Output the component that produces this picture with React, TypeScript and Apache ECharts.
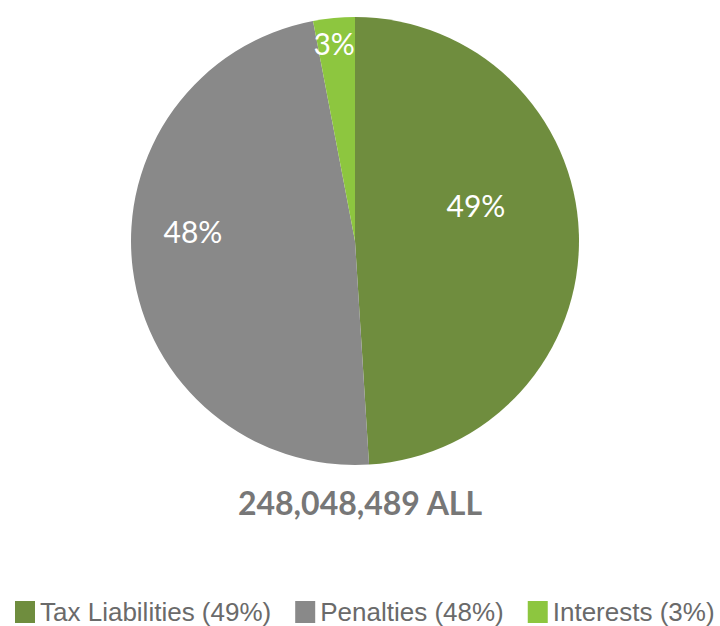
import React, { useEffect, useRef } from "react";
import * as echarts from "echarts";

const categories = ["Tax Liabilities", "Penalties", "Interests"];
const percents = [49, 48, 3];
const colors = ["#6f8d3e", "#898989", "#8dc63f"];
const totalLabel = "248,048,489 ALL";
// label nudges (px) relative to ECharts' default inside position
const labelNudges = [
  [6, -32],
  [-48, -24],
  [-10, -84],
];

export default function App() {
  const ref = useRef<HTMLDivElement>(null);
  useEffect(() => {
    const chart = echarts.init(ref.current!, null, { renderer: "svg" });
    const data = categories.map((c, i) => ({
      name: `${c} (${percents[i]}%)`,
      value: percents[i],
      itemStyle: { color: colors[i] },
    }));
    chart.setOption({
      animation: false,
      title: {
        text: totalLabel,
        left: "center",
        top: 481,
        textStyle: {
          fontFamily: "Lato",
          fontWeight: "bold",
          fontSize: 32,
          color: "#777777",
        },
      },
      legend: {
        left: 10,
        top: 594,
        itemWidth: 20,
        itemHeight: 22,
        itemGap: 24,
        icon: "rect",
        textStyle: {
          fontFamily: "Liberation Sans",
          fontSize: 26,
          lineHeight: 26,
          color: "#6a6a6a",
        },
        selectedMode: false,
      },
      series: [
        {
          type: "pie",
          center: [355, 241],
          radius: [0, 224],
          startAngle: 90,
          clockwise: true,
          data,
          label: {
            show: true,
            position: "inside",
            formatter: "{c}%",
            color: "#ffffff",
            fontFamily: "Lato",
            fontWeight: "normal",
            fontSize: 30,
          },
          labelLine: { show: false },
          labelLayout: (p: any) => ({
            dx: labelNudges[p.dataIndex][0],
            dy: labelNudges[p.dataIndex][1],
          }),
          emphasis: { disabled: true },
          itemStyle: { borderWidth: 0 },
        },
      ],
    });
    return () => chart.dispose();
  }, []);
  return (
    <div
      ref={ref}
      style={{ position: "fixed", left: 0, top: 0, width: 720, height: 626, background: "#ffffff" }}
    />
  );
}
